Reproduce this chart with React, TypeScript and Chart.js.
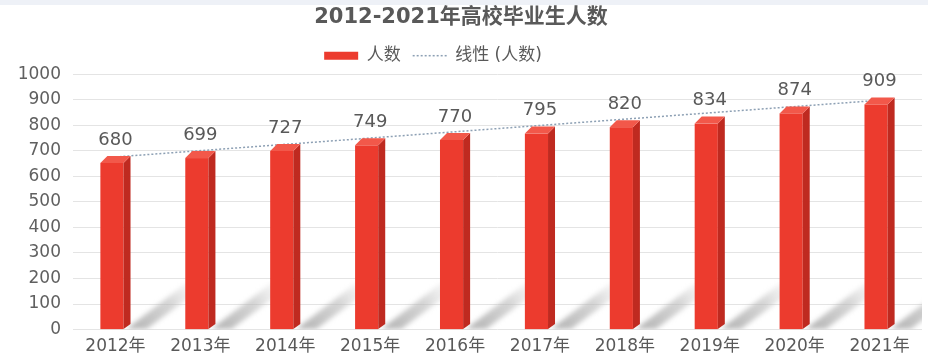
import { useEffect, useRef } from 'react';
import { Chart, registerables } from 'chart.js';

Chart.register(...registerables);

const categories = ['2012年', '2013年', '2014年', '2015年', '2016年', '2017年', '2018年', '2019年', '2020年', '2021年'];
const graduates = [680, 699, 727, 749, 770, 795, 820, 834, 874, 909];
const trendLine = [676, null, null, null, null, null, null, null, null, 898];
const yMin = 0;
const yMax = 1000;
const yStep = 100;

const FONT = '"DejaVu Sans", "Noto Sans CJK SC", sans-serif';
const RED_FRONT = '#ec3b2e';
const RED_SIDE = '#bf2a20';
const RED_TOP = '#f2584a';
const TREND = '#8da0b4';

const bar3d = {
  id: 'bar3d',
  afterLayout(chart: any) {
    const lg = chart.legend;
    if (lg) {
      lg.left -= 28;
      lg.right -= 28;
    }
  },
  beforeDraw(chart: any) {
    const ctx = chart.ctx;
    ctx.save();
    ctx.fillStyle = '#ffffff';
    ctx.fillRect(0, 0, chart.width, chart.height);
    ctx.fillStyle = '#eef1f7';
    ctx.fillRect(0, 0, chart.width, 5);
    ctx.restore();
  },
  beforeDatasetsDraw(chart: any) {
    const ctx = chart.ctx;
    const area = chart.chartArea;
    const meta = chart.getDatasetMeta(0);
    ctx.save();
    ctx.beginPath();
    ctx.rect(area.left, area.top, area.right - area.left, area.bottom - area.top);
    ctx.clip();
    ctx.filter = 'blur(2.5px)';
    meta.data.forEach((el: any) => {
      const p = el.getProps(['x', 'y', 'base', 'width'], true);
      const sx = p.x + p.width / 2 - 4;
      const b = p.base;
      const g = ctx.createLinearGradient(sx, b, sx + 70, b - 46);
      g.addColorStop(0, 'rgba(150,150,150,0.75)');
      g.addColorStop(0.6, 'rgba(185,185,185,0.6)');
      g.addColorStop(1, 'rgba(220,220,220,0.15)');
      ctx.fillStyle = g;
      ctx.beginPath();
      ctx.moveTo(sx, b);
      ctx.lineTo(sx + 60, b - 46);
      ctx.lineTo(sx + 74, b - 40);
      ctx.lineTo(sx + 20, b);
      ctx.closePath();
      ctx.fill();
    });
    ctx.restore();
  },
  beforeDatasetDraw(chart: any, args: any) {
    if (args.index !== 0) return;
    const ctx = chart.ctx;
    const meta = chart.getDatasetMeta(0);
    ctx.save();
    meta.data.forEach((el: any) => {
      const p = el.getProps(['x', 'y', 'base', 'width'], true);
      const d = 7;
      const L = p.x - p.width / 2;
      const R = p.x + p.width / 2 - d;
      const T = p.y + d;
      const B = p.base;
      ctx.fillStyle = RED_FRONT;
      ctx.fillRect(L, T, R - L, B - T);
      ctx.fillStyle = RED_SIDE;
      ctx.beginPath();
      ctx.moveTo(R, T);
      ctx.lineTo(R + d, p.y);
      ctx.lineTo(R + d, B - 5);
      ctx.lineTo(R, B);
      ctx.closePath();
      ctx.fill();
      ctx.fillStyle = RED_TOP;
      ctx.beginPath();
      ctx.moveTo(L, T);
      ctx.lineTo(R, T);
      ctx.lineTo(R + d, p.y);
      ctx.lineTo(L + d, p.y);
      ctx.closePath();
      ctx.fill();
    });
    ctx.restore();
    return false;
  },
  afterDatasetsDraw(chart: any) {
    const ctx = chart.ctx;
    const meta = chart.getDatasetMeta(0);
    ctx.save();
    ctx.fillStyle = '#595959';
    ctx.font = '18px ' + FONT;
    ctx.textAlign = 'center';
    ctx.textBaseline = 'bottom';
    meta.data.forEach((el: any, i: number) => {
      const p = el.getProps(['x', 'y'], true);
      ctx.fillText(String(graduates[i]), p.x, p.y - 7);
    });
    ctx.restore();
  },
};

export default function App() {
  const ref = useRef<HTMLCanvasElement | null>(null);
  useEffect(() => {
    document.body.style.margin = '0';
    const canvas = ref.current;
    if (!canvas) return;
    const chart = new Chart(canvas, {
      type: 'bar',
      data: {
        labels: categories,
        datasets: [
          {
            type: 'bar',
            label: '人数',
            data: graduates,
            backgroundColor: RED_FRONT,
            borderColor: RED_FRONT,
            barPercentage: 0.355,
            categoryPercentage: 1,
            order: 0,
          } as any,
          {
            type: 'line',
            label: '线性 (人数)',
            data: trendLine,
            spanGaps: true,
            borderColor: TREND,
            backgroundColor: TREND,
            borderWidth: 1.5,
            borderDash: [2, 2],
            pointRadius: 0,
            fill: false,
            order: 1,
          } as any,
        ],
      },
      options: {
        responsive: false,
        animation: false,
        layout: { padding: { left: 0, right: 6, top: 0, bottom: 0 } },
        plugins: {
          title: {
            display: true,
            text: '2012-2021年高校毕业生人数',
            color: '#595959',
            font: { family: FONT, size: 21, weight: 'bold' },
            padding: { top: 5, bottom: 5 },
          },
          legend: {
            display: true,
            position: 'top',
            labels: {
              color: '#595959',
              font: { family: FONT, size: 17 },
              usePointStyle: true,
              pointStyleWidth: 34,
              boxHeight: 8,
              padding: 12,
              generateLabels: (c: any) => {
                const items = Chart.defaults.plugins.legend.labels.generateLabels(c);
                return items.map((it: any, i: number) => ({
                  ...it,
                  pointStyle: i === 0 ? 'rect' : 'line',
                  lineWidth: i === 0 ? 0 : 1.5,
                  lineDash: i === 0 ? [] : [2, 2],
                  strokeStyle: i === 0 ? RED_FRONT : TREND,
                  fillStyle: i === 0 ? RED_FRONT : TREND,
                }));
              },
            },
          },
          tooltip: { enabled: false },
        },
        scales: {
          x: {
            grid: { display: false, drawTicks: false },
            border: { display: false },
            ticks: { color: '#595959', font: { family: FONT, size: 17 }, padding: 7 },
          },
          y: {
            min: yMin,
            max: yMax,
            ticks: {
              stepSize: yStep,
              color: '#606060',
              font: { family: FONT, size: 17 },
              padding: 12,
              callback: (v: any) => String(v),
            },
            grid: { color: '#e4e4e4', drawTicks: false },
            border: { display: false },
            afterFit: (s: any) => {
              s.width = 73;
            },
          },
        },
      },
      plugins: [bar3d],
    });
    return () => chart.destroy();
  }, []);
  return (
    <div style={{ width: 928, height: 364 }}>
      <canvas ref={ref} width={928} height={364} />
    </div>
  );
}
